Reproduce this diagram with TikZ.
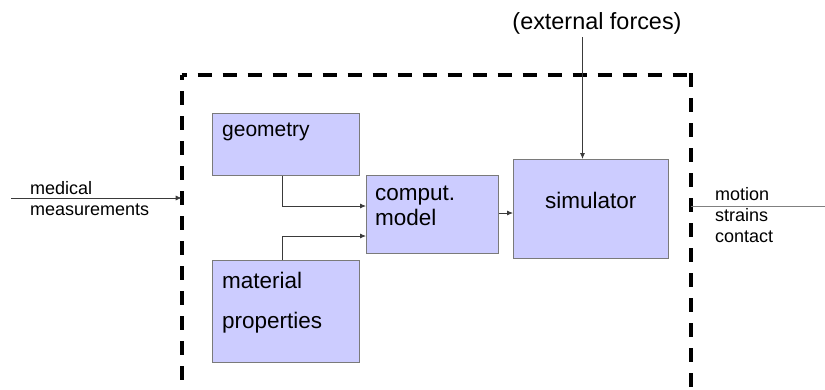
\documentclass[tikz,border=0pt]{standalone}
\usepackage{fontspec}
\setmainfont{Liberation Sans}
\usetikzlibrary{arrows.meta}

\definecolor{boxfill}{HTML}{CCCCFF}
\definecolor{boxline}{HTML}{7A7A7A}
\definecolor{wire}{HTML}{3A3A3A}
\definecolor{outwire}{HTML}{808080}

\newcommand{\fs}[1]{\fontsize{#1}{#1}\selectfont}

\tikzset{
  block/.style={draw=boxline, line width=0.8pt, fill=boxfill, inner sep=0pt, anchor=north west},
  blocktext/.style={anchor=base west, inner sep=0pt, font=\fs{22.5}},
  smalltext/.style={anchor=base west, inner sep=0pt, font=\fs{18}},
  wirearrow/.style={draw=wire, line width=0.8pt, -{Latex[length=6pt,width=5pt]}},
  border/.style={line width=4pt, dash pattern=on 14pt off 11pt}
}

\begin{document}
\begin{tikzpicture}[x=1pt, y=-1pt]
  \useasboundingbox (0,0) rectangle (825,389);
  \clip (0,0) rectangle (825,389);

  % system boundary (open at the bottom)
  \draw[border, dash phase=9pt] (181.7,75) -- (181.7,400);
  \draw[border, dash phase=9pt] (181.7,75) -- (690.7,75);
  \draw[border] (690.7,73) -- (690.7,400);

  % blocks
  \node[block, minimum width=147pt, minimum height=62pt]  (geo) at (212,113) {};
  \node[block, minimum width=147pt, minimum height=102pt] (mat) at (212,260) {};
  \node[block, minimum width=132pt, minimum height=78pt]  (cm)  at (366,175) {};
  \node[block, minimum width=155pt, minimum height=99pt]  (sim) at (513,159) {};

  % block labels
  \node[blocktext, font=\fs{21}] (geotxt) at (222,136) {geometry};
  \node[blocktext] (mattxt1) at (222,288) {material};
  \node[blocktext] (mattxt2) at (222,328) {properties};
  \node[blocktext] (cmtxt1) at (375,200) {comput.};
  \node[blocktext] (cmtxt2) at (375,225) {model};
  \node[blocktext] (simtxt) at (545,208) {simulator};

  % outside labels
  \node[anchor=base, inner sep=0pt, font=\fs{23.4}] (ext) at (597,29) {(external forces)};
  \node[smalltext] (med1) at (30,194.7) {medical};
  \node[smalltext] (med2) at (30,215) {measurements};
  \node[smalltext] (out1) at (715,200) {motion};
  \node[smalltext] (out2) at (715,221.5) {strains};
  \node[smalltext] (out3) at (715,242.5) {contact};

  % connector endpoints
  \coordinate (inStart) at (11,198);
  \coordinate (inEnd) at (181.7,198);
  \coordinate (extTop) at (582.5,37);
  \coordinate (outStart) at (690.7,206);
  \coordinate (outEnd) at (825,206);

  % connectors
  \draw[wirearrow] (inStart) -- (inEnd);
  \draw[wirearrow] (geo.south -| 282,0) |- (cm.west |- 0,206);
  \draw[wirearrow] (mat.north -| 282,0) |- (cm.west |- 0,236);
  \draw[wirearrow] (cm.east |- 0,213) -- (sim.west |- 0,213);
  \draw[wirearrow] (extTop) -- (sim.north -| extTop);
  \draw[draw=outwire, line width=0.8pt] (outStart) -- (outEnd);
\end{tikzpicture}
\end{document}
